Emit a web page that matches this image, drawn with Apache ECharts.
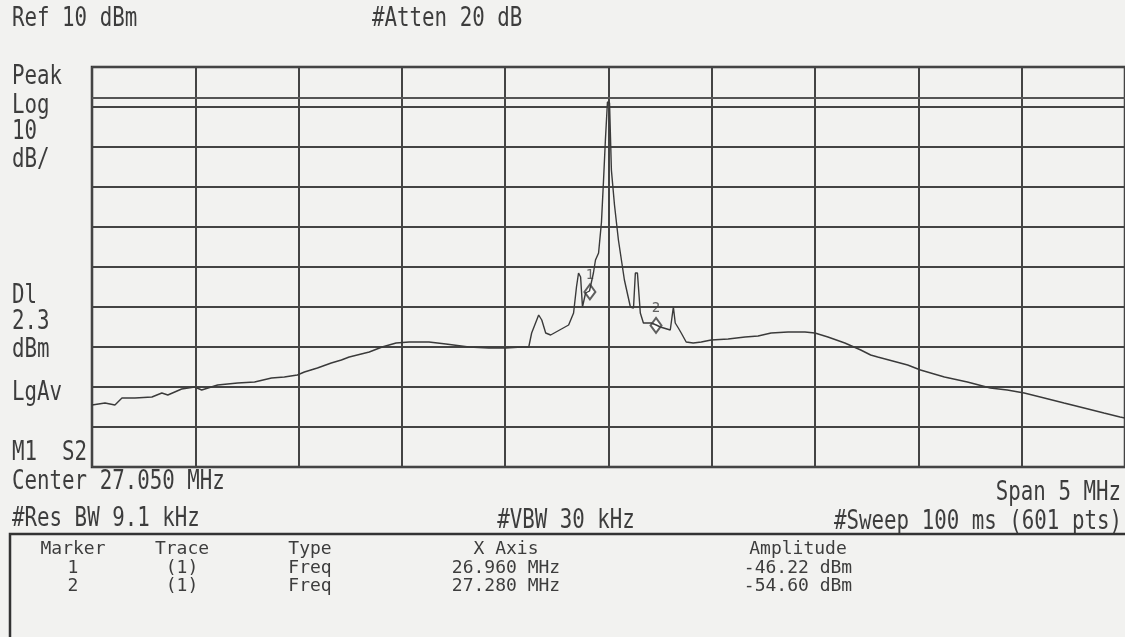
<!DOCTYPE html>
<html>
<head>
<meta charset="utf-8">
<script src="https://cdn.jsdelivr.net/npm/echarts@6/dist/echarts.min.js"></script>
<style>
    html, body { margin: 0; padding: 0; background: #f2f2f0; }
    #container { width: 1125px; height: 637px; }
</style>
</head>
<body>
<div id="container"></div>
<script>
// trace (MHz, dBm)
var traceFreq = [24.550, 24.613, 24.661, 24.695, 24.758, 24.840, 24.888, 24.917, 24.984, 25.047,
    25.081, 25.158, 25.255, 25.337, 25.419, 25.481, 25.544, 25.578, 25.641, 25.708,
    25.757, 25.795, 25.892, 25.954, 26.022, 26.085, 26.181, 26.263, 26.374, 26.471,
    26.553, 26.630, 26.664, 26.678, 26.712, 26.727, 26.746, 26.770, 26.857, 26.881,
    26.895, 26.905, 26.915, 26.924, 26.939, 26.958, 26.977, 26.987, 27.002, 27.016,
    27.026, 27.035, 27.045, 27.055, 27.064, 27.079, 27.098, 27.127, 27.156, 27.171,
    27.180, 27.190, 27.204, 27.219, 27.257, 27.281, 27.301, 27.349, 27.364, 27.373,
    27.388, 27.402, 27.426, 27.460, 27.499, 27.547, 27.629, 27.711, 27.774, 27.837,
    27.919, 28.001, 28.049, 28.112, 28.194, 28.271, 28.319, 28.353, 28.498, 28.560,
    28.676, 28.787, 28.898, 28.980, 29.062, 29.159, 29.255, 29.352, 29.448, 29.526, 29.550];
var traceAmp = [-74.5, -74.0, -74.5, -72.75, -72.75, -72.5, -71.5, -72.0, -70.5, -70.0,
    -70.75, -69.5, -69.0, -68.75, -67.75, -67.5, -67.0, -66.25, -65.25, -64.0,
    -63.25, -62.5, -61.25, -60.0, -59.0, -58.75, -58.75, -59.25, -60.0, -60.25,
    -60.25, -60.0, -60.0, -56.5, -52.0, -53.25, -56.5, -57.0, -54.5, -51.5,
    -45.0, -41.5, -42.5, -50.0, -46.5, -46.0, -41.5, -38.25, -36.5, -28.75,
    -18.25, -8.25, 1.25, 1.0, -15.75, -24.5, -33.25, -43.25, -50.0, -50.25,
    -41.5, -41.5, -51.5, -54.0, -54.0, -54.5, -55.0, -55.75, -50.0, -54.0,
    -55.25, -56.5, -58.75, -59.0, -58.75, -58.25, -58.0, -57.5, -57.25, -56.5,
    -56.25, -56.25, -56.5, -57.5, -59.0, -60.75, -62.0, -62.5, -64.5, -65.75,
    -67.5, -68.75, -70.25, -70.75, -71.5, -72.75, -74.0, -75.25, -76.5, -77.5, -77.75];

var markerName = ['1', '2'];
var markerFreq = [26.960, 27.280];
var markerAmp = [-46.22, -54.60];

var refLevel = 10;
var bottomLevel = -90;
var displayLine = 2.3;
var startFreq = 24.55;
var stopFreq = 29.55;

var leftLabels = ['Peak', 'Log', '10', 'dB/', 'Dl', '2.3', 'dBm', 'LgAv', 'M1  S2'];
var tableHeader = ['Marker', 'Trace', 'Type', 'X Axis', 'Amplitude'];
var tableRow1 = ['1', '(1)', 'Freq', '26.960 MHz', '-46.22 dBm'];
var tableRow2 = ['2', '(1)', 'Freq', '27.280 MHz', '-54.60 dBm'];

(function() {
    var dom = document.getElementById("container");
    var myChart = echarts.init(dom);
    var ink = '#3d3d3d';
    var mono = '"DejaVu Sans Mono", monospace';

    function txt(s, x, y, size, align, sx) {
        return {
            type: 'text',
            x: x,
            y: y,
            scaleX: sx || 1,
            style: {
                text: s,
                font: size + 'px ' + mono,
                fill: ink,
                align: align || 'left',
                verticalAlign: 'middle'
            }
        };
    }

    var g = [];
    g.push(txt('Ref 10 dBm', 12, 19, 26, 'left', 0.8));
    g.push(txt('#Atten 20 dB', 372, 19, 26, 'left', 0.8));
    var leftY = [77, 106, 132, 160, 296, 322, 350, 393, 453];
    for (var i = 0; i < leftLabels.length; i++) {
        g.push(txt(leftLabels[i], 12, leftY[i], 26, 'left', 0.8));
    }
    g.push(txt('Center 27.050 MHz', 12, 482, 26, 'left', 0.8));
    g.push(txt('Span 5 MHz', 1121, 493, 26, 'right', 0.8));
    g.push(txt('#Res BW 9.1 kHz', 12, 519, 26, 'left', 0.8));
    g.push(txt('#VBW 30 kHz', 566, 521, 26, 'center', 0.8));
    g.push(txt('#Sweep 100 ms (601 pts)', 1122, 522, 26, 'right', 0.8));

    g.push({
        type: 'rect',
        shape: { x: 10, y: 534, width: 1130, height: 120 },
        style: { fill: 'none', stroke: '#333', lineWidth: 2.5 }
    });
    var colX = [73, 182, 310, 506, 798];
    var rows = [tableHeader, tableRow1, tableRow2];
    var rowY = [549, 568, 586];
    for (var r = 0; r < rows.length; r++) {
        for (var c = 0; c < rows[r].length; c++) {
            g.push(txt(rows[r][c], colX[c], rowY[r], 18, 'center'));
        }
    }

    var trace = traceFreq.map(function(f, i) { return [f, traceAmp[i]]; });
    var markers = markerFreq.map(function(f, i) {
        return { name: markerName[i], value: [f, markerAmp[i]] };
    });

    myChart.setOption(option = {
        backgroundColor: '#f2f2f0',
        animation: false,
        grid: {
            left: 92,
            right: -3,
            top: 67,
            bottom: 170,
            show: true,
            borderColor: '#333',
            borderWidth: 2.5,
            backgroundColor: 'transparent'
        },
        xAxis: {
            type: 'value',
            min: startFreq,
            max: stopFreq,
            interval: 0.5,
            axisLine: { show: false },
            axisTick: { show: false },
            axisLabel: { show: false },
            splitLine: { show: true, lineStyle: { color: '#444', width: 2 } }
        },
        yAxis: {
            type: 'value',
            min: bottomLevel,
            max: refLevel,
            interval: 10,
            axisLine: { show: false },
            axisTick: { show: false },
            axisLabel: { show: false },
            splitLine: { show: true, lineStyle: { color: '#444', width: 2 } }
        },
        series: [{
            type: 'line',
            data: trace,
            showSymbol: false,
            lineStyle: { color: '#3a3a3a', width: 1.4 },
            markLine: {
                silent: true,
                symbol: 'none',
                label: { show: false },
                lineStyle: { color: '#555', width: 2, type: 'solid' },
                data: [{ yAxis: displayLine }]
            }
        }, {
            type: 'scatter',
            data: markers,
            symbol: 'emptyDiamond',
            symbolSize: [11, 15],
            itemStyle: { color: '#3a3a3a', borderWidth: 1.5 },
            label: {
                show: true,
                position: 'top',
                distance: 1,
                formatter: '{b}',
                fontFamily: mono,
                fontSize: 14,
                color: ink
            }
        }],
        graphic: g
    });
}).call(this);
</script>
</body>
</html>
